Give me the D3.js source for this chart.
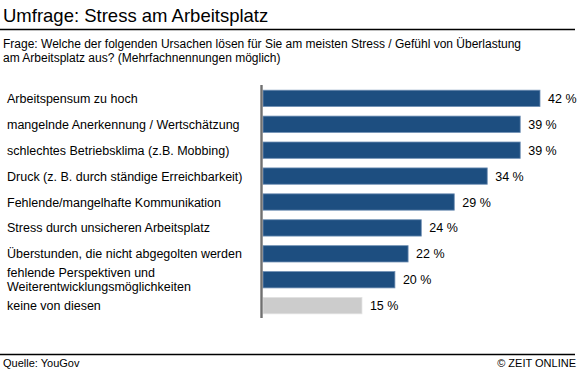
<!DOCTYPE html>
<html>
<head>
<meta charset="utf-8">
<script src="https://d3js.org/d3.v7.min.js"></script>
<style>
  body { margin: 0; background: #fff; font-family: Arial, "Liberation Sans", sans-serif; }
</style>
</head>
<body>
<div id="chart"></div>
<script>
// data
var categories = [
  ["Arbeitspensum zu hoch"],
  ["mangelnde Anerkennung / Wertschätzung"],
  ["schlechtes Betriebsklima (z.B. Mobbing)"],
  ["Druck (z. B. durch ständige Erreichbarkeit)"],
  ["Fehlende/mangelhafte Kommunikation"],
  ["Stress durch unsicheren Arbeitsplatz"],
  ["Überstunden, die nicht abgegolten werden"],
  ["fehlende Perspektiven und", "Weiterentwicklungsmöglichkeiten"],
  ["keine von diesen"]
];
var values = [42, 39, 39, 34, 29, 24, 22, 20, 15];
var highlight = [true, true, true, true, true, true, true, true, false];

var W = 580, H = 373;
var svg = d3.select("#chart").append("svg")
  .attr("width", W).attr("height", H)
  .style("font-family", "Arial, 'Liberation Sans', sans-serif");

// header
svg.append("text").attr("x", 3).attr("y", 22)
  .style("font-size", "18.5px").attr("fill", "#000")
  .text("Umfrage: Stress am Arbeitsplatz");
svg.append("line").attr("x1", 0).attr("x2", 575).attr("y1", 29.5).attr("y2", 29.5)
  .attr("stroke", "#000").attr("stroke-width", 1.5);
svg.append("text").attr("x", 3).attr("y", 48)
  .style("font-size", "12px")
  .text("Frage: Welche der folgenden Ursachen lösen für Sie am meisten Stress / Gefühl von Überlastung");
svg.append("text").attr("x", 3).attr("y", 62)
  .style("font-size", "12px")
  .text("am Arbeitsplatz aus? (Mehrfachnennungen möglich)");

// scales
var x = d3.scaleLinear().domain([0, 42]).range([263, 540]);
var y = d3.scaleBand().domain(d3.range(values.length)).range([85, 319]).paddingInner(0.37).paddingOuter(0.2);

var rows = svg.selectAll("g.row").data(values).enter().append("g").attr("class", "row");

rows.append("rect")
  .attr("x", x(0))
  .attr("y", function (d, i) { return y(i); })
  .attr("width", function (d) { return x(d) - x(0); })
  .attr("height", y.bandwidth())
  .attr("fill", function (d, i) { return highlight[i] ? "#1d4e80" : "#cccccc"; })
  .attr("stroke", function (d, i) { return highlight[i] ? "#6f8fb3" : "#e0e0e0"; })
  .attr("stroke-width", 0.8);

rows.append("text")
  .attr("x", function (d) { return x(d) + 8; })
  .attr("y", function (d, i) { return y(i) + y.bandwidth() / 2 + 4.5; })
  .style("font-size", "12.5px")
  .text(function (d) { return d + " %"; });

rows.append("text")
  .attr("x", 7)
  .attr("y", function (d, i) {
    var c = y(i) + y.bandwidth() / 2 + 4.5;
    return categories[i].length > 1 ? c - 7 : c;
  })
  .style("font-size", "12.5px")
  .selectAll("tspan")
  .data(function (d, i) { return categories[i]; })
  .enter().append("tspan")
  .attr("x", 7)
  .attr("dy", function (d, j) { return j === 0 ? 0 : 14; })
  .text(function (d) { return d; });

// axis line
svg.append("line").attr("x1", 261.5).attr("x2", 261.5).attr("y1", 85).attr("y2", 318)
  .attr("stroke", "#707070").attr("stroke-width", 2.4);

// footer
svg.append("line").attr("x1", 0).attr("x2", 575).attr("y1", 354.5).attr("y2", 354.5)
  .attr("stroke", "#000").attr("stroke-width", 1.5);
svg.append("text").attr("x", 3).attr("y", 367)
  .style("font-size", "11px").text("Quelle: YouGov");
svg.append("text").attr("x", 576).attr("y", 367).attr("text-anchor", "end")
  .style("font-size", "11px").text("© ZEIT ONLINE");
</script>
</body>
</html>
